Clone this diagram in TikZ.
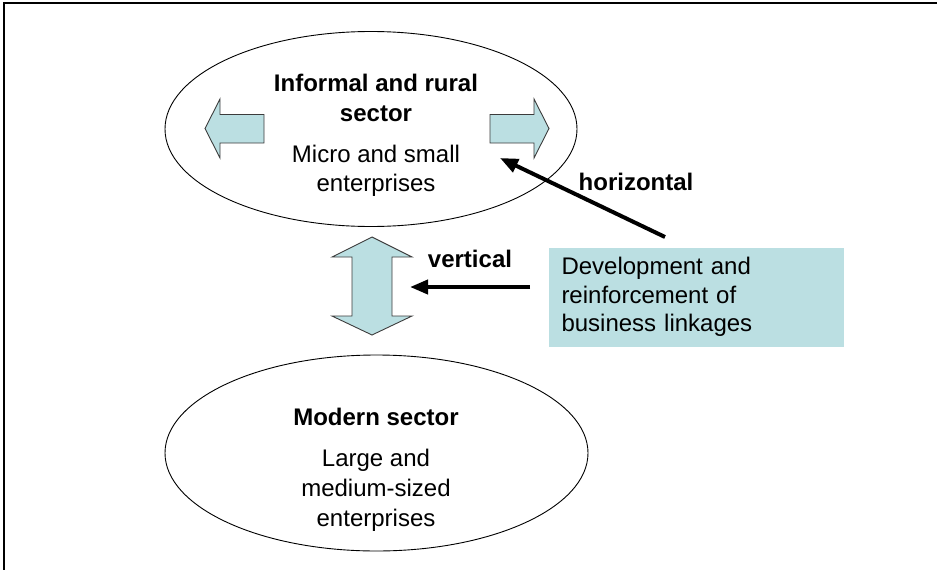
\documentclass[tikz,border=0pt]{standalone}
\usepackage{fontspec}
\setmainfont{Liberation Sans}
\usetikzlibrary{arrows.meta,shapes.geometric}
\definecolor{boxfill}{RGB}{187,223,226}
\definecolor{blockline}{RGB}{60,60,60}
\begin{document}
\begin{tikzpicture}[x=1pt,y=-1pt,
  sectorshape/.style={draw=black, line width=0.9pt, ellipse, inner sep=0pt},
  titletext/.style={font=\bfseries\fontsize{24}{29.5}\selectfont, align=center, inner sep=0pt},
  bodytext/.style={font=\fontsize{24}{29.5}\selectfont, align=center, inner sep=0pt},
  blockarrow/.style={fill=boxfill, draw=blockline, line width=0.9pt, line join=miter},
  linkarrow/.style={line width=4pt, -{Triangle[length=18pt,width=14pt]}},
  linkbox/.style={fill=boxfill, draw=none, inner xsep=12.5pt, inner ysep=0pt,
    text width=270pt, minimum height=99pt, align=left,
    font=\fontsize{24}{28.5}\selectfont}
]
\useasboundingbox (0,0) rectangle (937,570);
% frame
\draw[line width=2pt] (3.7,572) -- (3.7,3) -- (940,3);

% ellipses
\node[sectorshape, minimum width=412pt, minimum height=195pt] (top) at (371,129) {};
\node[sectorshape, minimum width=423pt, minimum height=196pt] (bot) at (376.5,453) {};

% top texts
\node[titletext] (toptitle) at (376,98) {Informal and rural\\sector};
\node[bodytext] (topbody) at (376,171) {Micro and small\\enterprises};

% bottom texts
\node[titletext] (bottitle) at (376,417) {Modern sector};
\node[bodytext, font=\fontsize{24}{30}\selectfont] (botbody) at (376,490) {Large and\\medium-sized\\enterprises};

% block arrows
\draw[blockarrow] (205,128.5) -- (220,99) -- (220,114.5) -- (264,114.5) -- (264,143) -- (220,143) -- (220,158) -- cycle;
\draw[blockarrow] (549,128.5) -- (534,99) -- (534,114.5) -- (490,114.5) -- (490,143) -- (534,143) -- (534,158) -- cycle;
\draw[blockarrow] (372,237) -- (412,257) -- (392,257) -- (392,316) -- (412,316) -- (372,335) -- (332,316) -- (352,316) -- (352,257) -- (332,257) -- cycle;

% box
\node[linkbox] (dev) at (696.5,297) {Development and\\reinforcement of\\business linkages};

% connectors
\coordinate (htail) at (665,237);
\coordinate (htip) at (500,158);
\coordinate (vtail) at (530,287);
\coordinate (vtip) at (410,287);
\draw[linkarrow] (htail) -- (htip);
\draw[linkarrow] (vtail) -- (vtip);

% labels
\node[titletext] (hlabel) at (636,182) {horizontal};
\node[titletext] (vlabel) at (470,259) {vertical};
\end{tikzpicture}
\end{document}
